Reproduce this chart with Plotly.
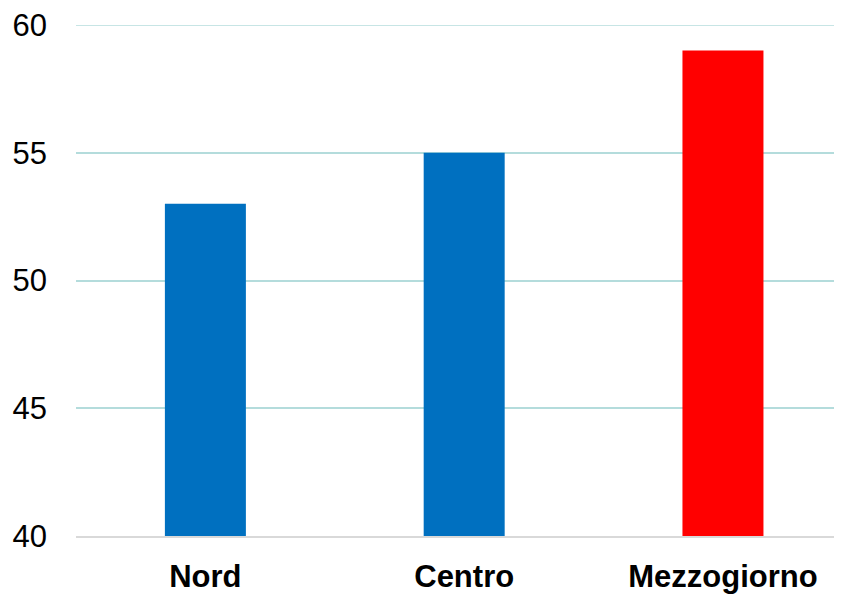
import plotly.graph_objects as go

categories = ["Nord", "Centro", "Mezzogiorno"]
values = [53, 55, 59]
colors = ["#0070C0", "#0070C0", "#FF0000"]
y_ticks = [40, 45, 50, 55, 60]

fig = go.Figure(go.Bar(
    x=categories, y=values, marker=dict(color=colors, line=dict(width=0)),
    width=0.313,
))

# page body has an 8px default margin, so the figure is sized to fit the window
fig.update_layout(
    width=834, height=586,
    margin=dict(l=68, r=0, t=14, b=55),
    plot_bgcolor="white", paper_bgcolor="white",
    showlegend=False,
    font=dict(family="Liberation Sans, Arial, sans-serif", color="black"),
)
fig.update_xaxes(
    range=[-0.5, 2.46],
    showgrid=False,
    showline=True, linecolor="#D9D9D9", linewidth=2,
    tickfont=dict(size=31, family="Liberation Sans, Arial, sans-serif", weight="bold"),
    ticks="", ticklabelstandoff=12,
)
fig.update_yaxes(
    range=[y_ticks[0], y_ticks[-1]], tickvals=y_ticks,
    showgrid=True, gridcolor="#B4DCDC", gridwidth=1.5,
    zeroline=False, showline=False,
    tickfont=dict(size=31),
    ticks="", ticklabelstandoff=28, ticklabeloverflow="allow",
)
# top gridline (plotly omits the grid line at the range edge)
fig.add_shape(type="line", xref="paper", yref="y", x0=0, x1=1,
              y0=y_ticks[-1], y1=y_ticks[-1],
              line=dict(color="#B4DCDC", width=1.5), layer="below")

fig.write_html("out.html")
